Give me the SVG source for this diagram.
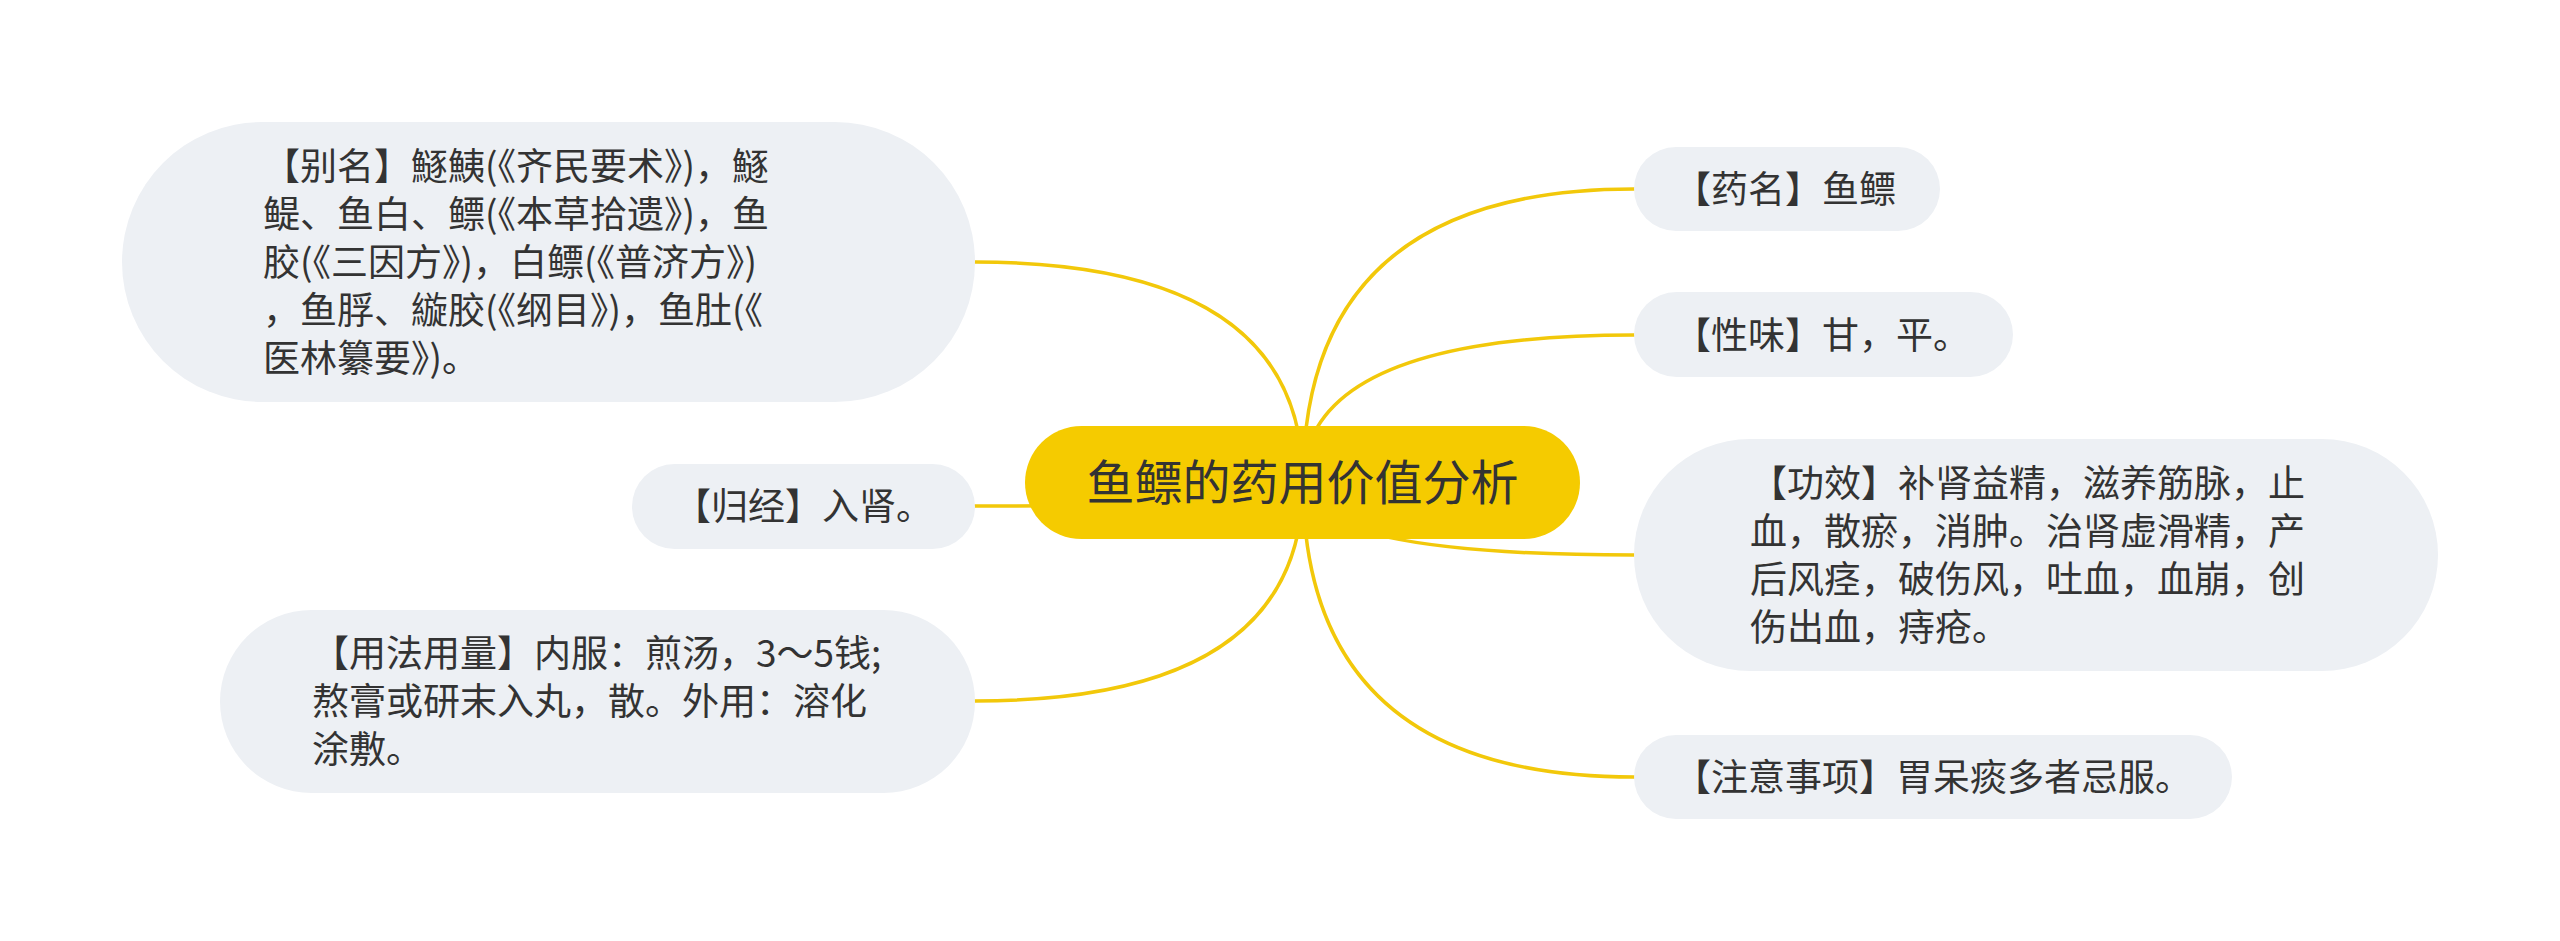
<svg xmlns="http://www.w3.org/2000/svg" width="2560" height="941" viewBox="0 0 2560 941">
<style>
.bg{fill:#FFFFFF}
.node rect{fill:#EDF0F4}
#root rect{fill:#F5CB00}
.t{font-family:"Noto Sans CJK SC","Noto Sans",sans-serif;font-size:37px;fill:#333333}
.rt{font-family:"Noto Sans CJK SC","Noto Sans",sans-serif;font-size:48px;fill:#333333}
#connectors path{fill:none;stroke:#F2C80A;stroke-width:3.5;stroke-linecap:round}
</style>
<rect class="bg" x="0" y="0" width="2560" height="941"/>
<g id="connectors">
  <path d="M1303 482 Q1303 262 975 262"/>
  <path d="M1303 482 Q1303 506 975 506"/>
  <path d="M1303 482 Q1303 701 975 701"/>
  <path d="M1303 482 Q1303 189 1634 189"/>
  <path d="M1303 482 Q1303 335 1634 335"/>
  <path d="M1303 482 Q1303 555 1634 555"/>
  <path d="M1303 482 Q1303 777 1634 777"/>
</g>
<g id="root">
  <rect x="1025" y="426" width="555" height="113" rx="56.5"/>
  <text class="rt" x="1302.5" y="500" text-anchor="middle">鱼鳔的药用价值分析</text>
</g>
<g id="n-bieming" class="node">
  <rect x="122" y="122" width="853" height="280" rx="140"/>
  <text class="t">
    <tspan x="263" y="180">【别名】鱁鮧(《齐民要术》)，鱁</tspan>
    <tspan x="263" y="228">鳀、鱼白、鳔(《本草拾遗》)，鱼</tspan>
    <tspan x="263" y="276">胶(《三因方》)，白鳔(《普济方》)</tspan>
    <tspan x="263" y="324">，鱼脬、縼胶(《纲目》)，鱼肚(《</tspan>
    <tspan x="263" y="372">医林纂要》)。</tspan>
  </text>
</g>
<g id="n-guijing" class="node">
  <rect x="632" y="464" width="343" height="85" rx="42.5"/>
  <text class="t" x="674" y="520">【归经】入肾。</text>
</g>
<g id="n-yongfa" class="node">
  <rect x="220" y="610" width="755" height="183" rx="91.5"/>
  <text class="t">
    <tspan x="312" y="667">【用法用量】内服：煎汤，3～5钱;</tspan>
    <tspan x="312" y="715">熬膏或研末入丸，散。外用：溶化</tspan>
    <tspan x="312" y="763">涂敷。</tspan>
  </text>
</g>
<g id="n-yaoming" class="node">
  <rect x="1634" y="147" width="306" height="84" rx="42"/>
  <text class="t" x="1674" y="203">【药名】鱼鳔</text>
</g>
<g id="n-xingwei" class="node">
  <rect x="1634" y="292" width="379" height="85" rx="42.5"/>
  <text class="t" x="1674" y="349">【性味】甘，平。</text>
</g>
<g id="n-gongxiao" class="node">
  <rect x="1634" y="439" width="804" height="232" rx="116"/>
  <text class="t">
    <tspan x="1750" y="497">【功效】补肾益精，滋养筋脉，止</tspan>
    <tspan x="1750" y="545">血，散瘀，消肿。治肾虚滑精，产</tspan>
    <tspan x="1750" y="593">后风痉，破伤风，吐血，血崩，创</tspan>
    <tspan x="1750" y="641">伤出血，痔疮。</tspan>
  </text>
</g>
<g id="n-zhuyi" class="node">
  <rect x="1634" y="735" width="598" height="84" rx="42"/>
  <text class="t" x="1674" y="791">【注意事项】胃呆痰多者忌服。</text>
</g>
</svg>
